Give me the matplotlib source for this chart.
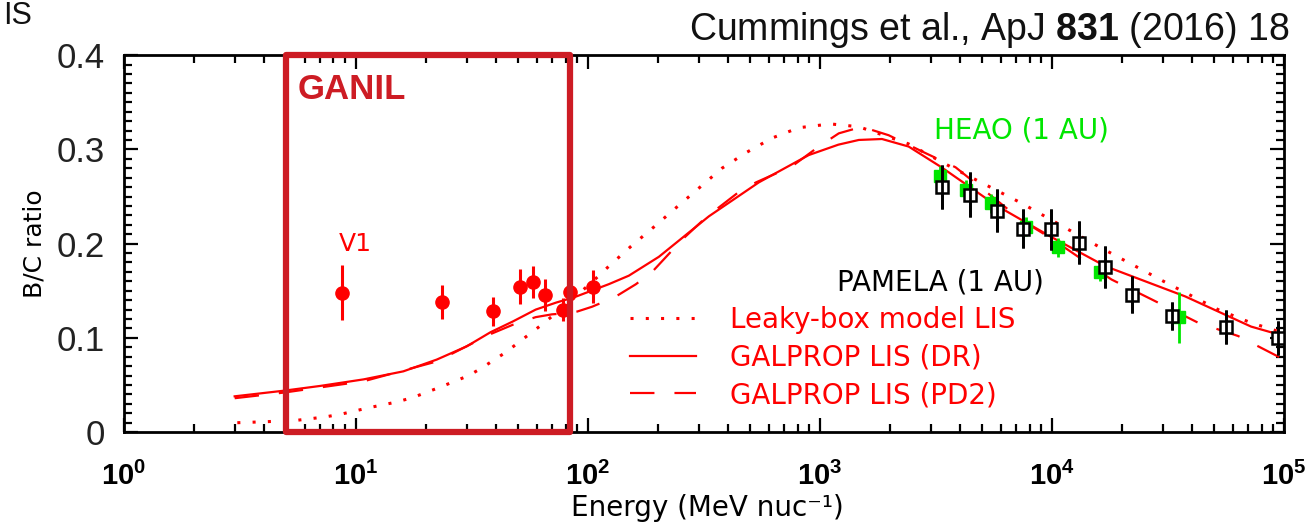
import numpy as np
import matplotlib
matplotlib.use('Agg')
import matplotlib.pyplot as plt
from matplotlib.patches import Rectangle
from matplotlib.ticker import MultipleLocator, LogLocator, NullFormatter, FixedLocator

# ---------------- data ----------------
lb_energy = [3.08, 4.03, 5.53, 7.3, 8.6, 11.4, 15.0, 17.7, 23.2, 30.6, 34.8, 44.4, 50.1, 64.0,
             85, 107, 123, 153, 193, 242, 301, 378, 484, 621, 811, 1110, 1470, 2400,
             3690, 7380, 15850, 30800, 52000, 72100, 100000]
lb_ratio = [0.0100, 0.0110, 0.0125, 0.016, 0.019, 0.026, 0.032, 0.037, 0.048, 0.060, 0.068,
            0.085, 0.095, 0.115, 0.140, 0.162, 0.176, 0.197, 0.218, 0.239, 0.259, 0.280,
            0.297, 0.312, 0.323, 0.327, 0.324, 0.306, 0.281, 0.243, 0.197, 0.159, 0.130,
            0.116, 0.105]

dr_energy = [3.0, 4.9, 7.0, 10.8, 16, 22.3, 30, 38, 47.5, 59.5, 73, 87, 123, 150, 202, 332,
             545, 895, 1200, 1470, 1850, 2410, 3340, 5710, 9940, 17000, 37500, 72100, 100000]
dr_ratio = [0.038, 0.044, 0.049, 0.056, 0.0645, 0.077, 0.091, 0.106, 0.1175, 0.130, 0.1375,
            0.143, 0.157, 0.166, 0.186, 0.229, 0.265, 0.294, 0.305, 0.310, 0.311, 0.303, 0.281,
            0.241, 0.207, 0.176, 0.144, 0.112, 0.102]

pd2_energy = [3.0, 4.9, 10.8, 22.3, 38, 47.5, 59.5, 70, 80, 90, 104, 130, 161, 189, 254, 323,
              448, 530, 757, 988, 1205, 1514, 1977, 2852, 3840, 7380, 10000, 18030, 26800,
              42700, 63400, 100000]
pd2_ratio = [0.036, 0.042, 0.054, 0.075, 0.104, 0.114, 0.122, 0.125, 0.126, 0.128, 0.133,
             0.143, 0.157, 0.170, 0.204, 0.228, 0.255, 0.265, 0.282, 0.303, 0.317, 0.324,
             0.315, 0.296, 0.281, 0.225, 0.205, 0.162, 0.141, 0.116, 0.102, 0.077]

v1_energy = [8.71, 23.6, 39.1, 51.1, 58.1, 65.4, 78.1, 83.7, 105]
v1_ratio = [0.148, 0.1376, 0.128, 0.1545, 0.159, 0.145, 0.130, 0.149, 0.1545]
v1_err = [0.029, 0.018, 0.015, 0.019, 0.017, 0.017, 0.012, 0.012, 0.018]

pamela_energy = [3340, 4410, 5770, 7530, 9930, 13100, 17000, 22200, 33000, 56300, 94000]
pamela_ratio = [0.260, 0.252, 0.235, 0.216, 0.215, 0.201, 0.175, 0.146, 0.123, 0.112, 0.100]
pamela_err = [0.023, 0.024, 0.023, 0.021, 0.022, 0.023, 0.022, 0.020, 0.015, 0.018, 0.018]

heao_energy = [3275, 4240, 5480, 7690, 10660, 16150, 35300]
heao_ratio = [0.272, 0.257, 0.243, 0.218, 0.196, 0.170, 0.122]
heao_err = [0.010, 0.010, 0.010, 0.010, 0.010, 0.010, 0.027]

ganil_range = [5, 84]

x_ticks = [1, 10, 100, 1000, 10000, 100000]
x_ticklabels = [r'$\mathbf{10^{0}}$', r'$\mathbf{10^{1}}$', r'$\mathbf{10^{2}}$',
                r'$\mathbf{10^{3}}$', r'$\mathbf{10^{4}}$', r'$\mathbf{10^{5}}$']
y_ticks = [0, 0.1, 0.2, 0.3, 0.4]
y_ticklabels = ['0', '0.1', '0.2', '0.3', '0.4']

# ---------------- style ----------------
plt.rcParams['font.family'] = ['DejaVu Sans']
plt.rcParams['mathtext.fontset'] = 'custom'
plt.rcParams['mathtext.bf'] = 'Liberation Sans:bold'
plt.rcParams['mathtext.rm'] = 'Liberation Sans'
plt.rcParams['mathtext.it'] = 'Liberation Sans:italic'

RED = '#ff0000'
BOX = '#cd1c24'
GREEN = '#00e600'

fig = plt.figure(figsize=(13.16, 5.27), dpi=100)
ax = fig.add_axes([0.0942, 0.180, 0.8815, 0.7154])

ln_lb, = ax.plot(lb_energy, lb_ratio, color=RED, lw=2.2, ls=(0, (1, 4)),
                 label='Leaky-box model LIS', zorder=3)
ln_dr, = ax.plot(dr_energy, dr_ratio, color=RED, lw=1.6, ls='-',
                 label='GALPROP LIS (DR)', zorder=3)
ln_pd2, = ax.plot(pd2_energy, pd2_ratio, color=RED, lw=1.6, ls=(0, (11, 9)),
                  label='GALPROP LIS (PD2)', zorder=3)

ax.errorbar(heao_energy, heao_ratio, yerr=heao_err, fmt='s', color=GREEN, ms=8,
            elinewidth=2, capsize=0, zorder=4)
ax.errorbar(pamela_energy, pamela_ratio, yerr=pamela_err, fmt='s', mfc='white', mec='black',
            ms=8.5, mew=1.8, ecolor='black', elinewidth=2, capsize=0, zorder=5)
ax.errorbar(pamela_energy, pamela_ratio, yerr=pamela_err, fmt='none',
            ecolor='black', elinewidth=2, capsize=0, zorder=6)
ax.errorbar(v1_energy, v1_ratio, yerr=v1_err, fmt='o', color=RED, ms=9.5,
            elinewidth=2.2, capsize=0, zorder=5)

ax.set_xscale('log')
ax.set_xlim(1, 1e5)
ax.set_ylim(0, 0.4)

ax.xaxis.set_major_locator(FixedLocator(x_ticks))
ax.set_xticklabels(x_ticklabels)
ax.xaxis.set_minor_locator(LogLocator(base=10, subs=np.arange(2, 10), numticks=30))
ax.xaxis.set_minor_formatter(NullFormatter())
ax.set_yticks(y_ticks)
ax.set_yticklabels(y_ticklabels)
ax.yaxis.set_minor_locator(MultipleLocator(0.01))

ax.tick_params(which='both', direction='in', top=True, right=True, width=1.6, color='black')
ax.tick_params(which='major', length=10)
ax.tick_params(which='minor', length=5.5)
ax.tick_params(axis='x', which='major', pad=21, labelsize=21)
ax.tick_params(axis='y', which='major', pad=14, labelsize=25, labelcolor='#222222')
for lab in ax.get_yticklabels():
    lab.set_fontfamily('Liberation Sans')
for sp in ax.spines.values():
    sp.set_linewidth(2)

ax.set_ylabel('B/C ratio', fontsize=18)
ax.yaxis.set_label_coords(-0.067, 0.5)
ax.set_xlabel('Energy (MeV nuc\u207b\u00b9)', fontsize=20)
ax.xaxis.set_label_coords(0.503, -0.165)

leg = ax.legend(handles=[ln_lb, ln_dr, ln_pd2], loc='upper left', bbox_to_anchor=(0.436, 0.334),
                frameon=False, fontsize=20, labelcolor=RED, handlelength=2.4,
                handletextpad=1.2, labelspacing=0.34, borderpad=0, borderaxespad=0)

ax.text(9.9, 0.1995, 'V1', color=RED, fontsize=18, ha='center', va='center')
ax.text(7400, 0.320, 'HEAO (1 AU)', color=GREEN, fontsize=20, ha='center', va='center')
ax.text(3306, 0.159, 'PAMELA (1 AU)', color='black', fontsize=20, ha='center', va='center')

ax.add_patch(Rectangle((ganil_range[0], 0), ganil_range[1] - ganil_range[0], 0.4,
                       fill=False, ec=BOX, lw=4.5, clip_on=False, zorder=10,
                       joinstyle='round'))

fig.text(298 / 1316, 1 - 99 / 527, 'GANIL', fontsize=25, fontweight='bold', color=BOX,
         family='Liberation Sans', va='baseline', ha='left')
fig.text(1290 / 1316, 1 - 40 / 527, r'Cummings et al., ApJ $\mathbf{831}$ (2016) 18',
         fontsize=27, family='Liberation Sans', va='baseline', ha='right', color='#111111')
fig.text(0.002, 1 - 24 / 527, 'IS', fontsize=22, family='Liberation Sans',
         va='baseline', ha='left', color='#111111')

fig.savefig('out.png', dpi=100)
